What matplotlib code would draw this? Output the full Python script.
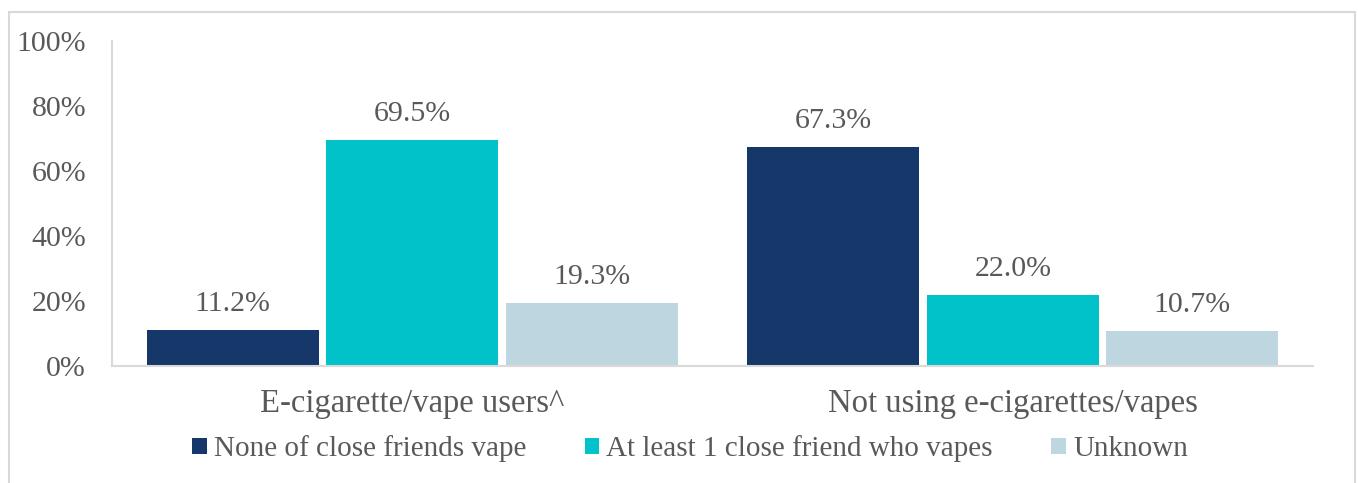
import matplotlib
matplotlib.use("Agg")
import matplotlib.pyplot as plt
from matplotlib.patches import Rectangle
import numpy as np

categories = ["E-cigarette/vape users^", "Not using e-cigarettes/vapes"]
series_names = ["None of close friends vape", "At least 1 close friend who vapes", "Unknown"]
none_vals = [11.2, 67.3]
atleast_vals = [69.5, 22.0]
unknown_vals = [19.3, 10.7]
yticks = [0, 20, 40, 60, 80, 100]

colors = ["#15376A", "#00C2C8", "#BDD6DF"]
text_color = "#595959"
grid_color = "#D9D9D9"

plt.rcParams['font.family'] = ['Liberation Serif', 'DejaVu Serif']
fs_y = 21.5
fs_x = 23.5
fs_val = 21.5
fs_leg = 21

fig = plt.figure(figsize=(13.58, 4.83), dpi=100)
fig.patches.append(Rectangle((9/1358, -0.1), (1355-9)/1358, 1.1 - 12/483,
                             transform=fig.transFigure, fill=False,
                             edgecolor=grid_color, linewidth=1.5))
ax = fig.add_axes([112/1358, 1-366/483, (1313-112)/1358, (366-41)/483])

x = np.arange(len(categories))
step = 0.299
width = 0.287
all_vals = [none_vals, atleast_vals, unknown_vals]
for i, (vals, name, c) in enumerate(zip(all_vals, series_names, colors)):
    bars = ax.bar(x + (i - 1) * step, vals, width, color=c, label=name)
    for b, v in zip(bars, vals):
        ax.text(b.get_x() + b.get_width() / 2, v + 4.0, f"{v:.1f}%",
                ha="center", va="bottom", fontsize=fs_val, color=text_color)

ax.set_xlim(-0.5, 1.5)
ax.set_ylim(0, 100)
ax.set_yticks(yticks)
ax.set_yticklabels([f"{t}%" for t in yticks])
ax.set_xticks(x)
ax.set_xticklabels(categories)
ax.tick_params(axis="both", length=0, colors=text_color)
ax.tick_params(axis="y", pad=18.7, labelsize=fs_y)
ax.tick_params(axis="x", pad=16, labelsize=fs_x)
for s in ["top", "right"]:
    ax.spines[s].set_visible(False)
for s in ["left", "bottom"]:
    ax.spines[s].set_color(grid_color)
    ax.spines[s].set_linewidth(1.5)

leg = fig.legend(loc="center", bbox_to_anchor=(690/1358, 1-449/483), ncol=3,
                 frameon=False, fontsize=fs_leg, handlelength=0.5, handleheight=0.5,
                 handletextpad=0.25, columnspacing=2.0)
for t in leg.get_texts():
    t.set_color(text_color)

fig.savefig("out.png", dpi=100)
